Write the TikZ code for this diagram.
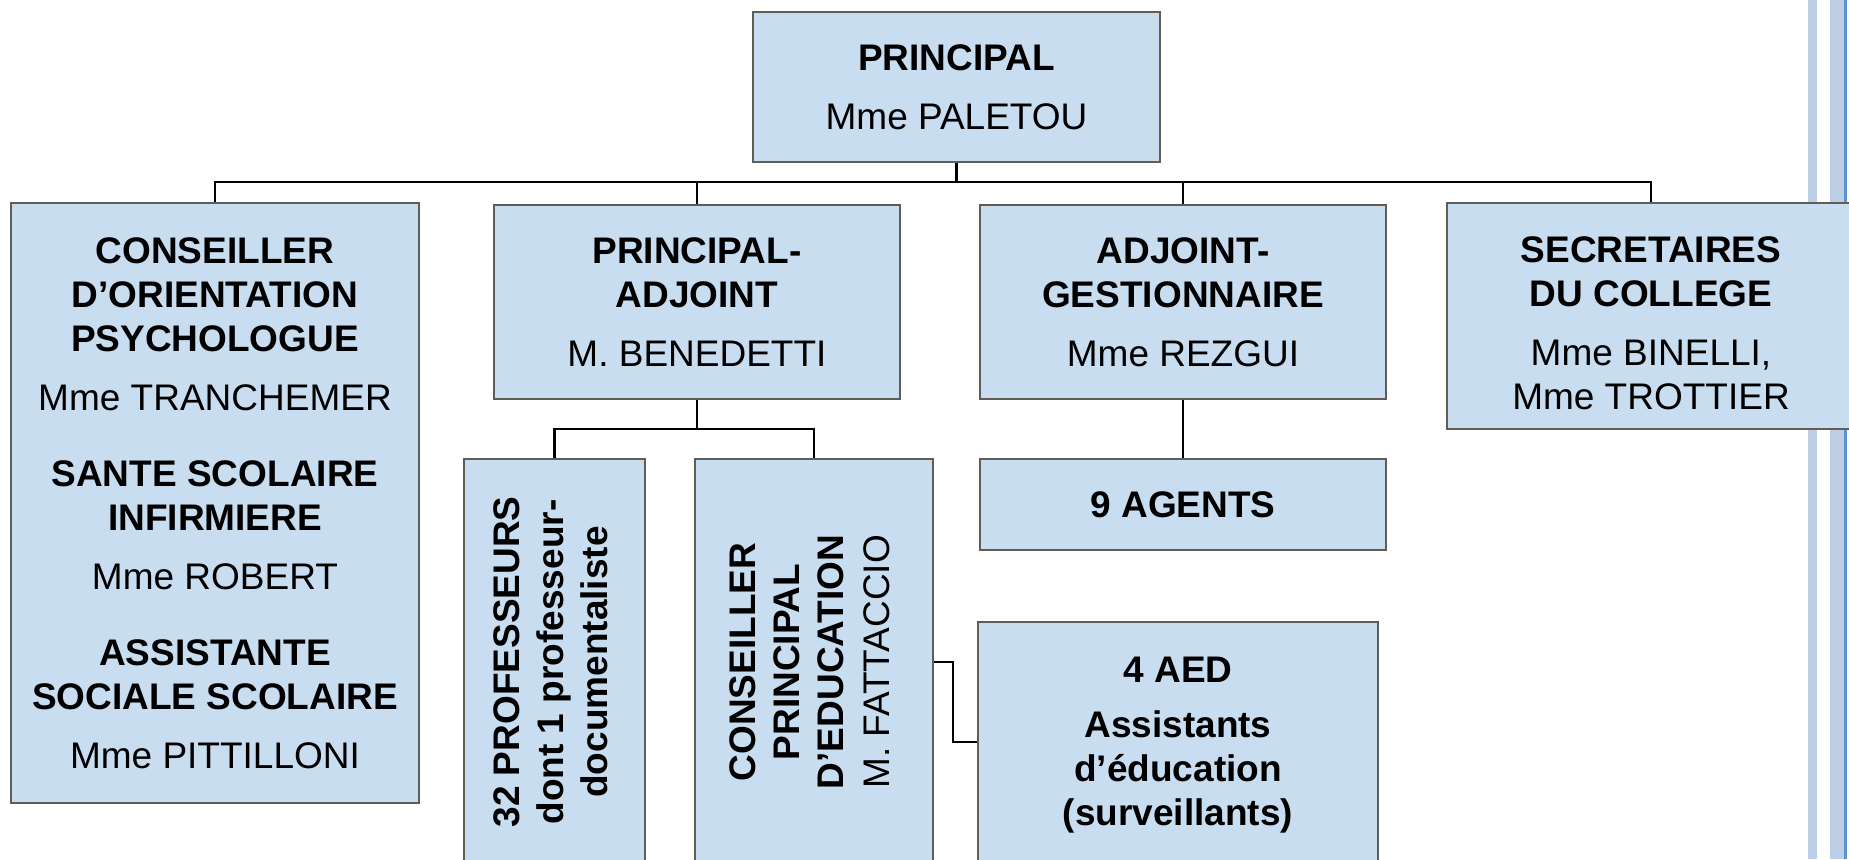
\documentclass[tikz,border=0pt]{standalone}
\usepackage{fontspec}
\setmainfont{Liberation Sans}
\usepackage{graphicx}
\definecolor{boxfill}{RGB}{200,221,240}
\definecolor{boxline}{RGB}{98,92,86}
\definecolor{stripe}{RGB}{189,207,231}
\definecolor{stripedark}{RGB}{91,146,207}
\tikzset{
  orgbox/.style={draw=boxline, line width=2pt, fill=boxfill, rectangle, inner sep=0pt,
    align=center, font=\fontsize{37}{44}\selectfont},
  boxtext/.style={align=center, font=\fontsize{37}{44}\selectfont, inner sep=0pt},
  link/.style={draw=black, line width=2.2pt}
}
\newcommand{\vtext}[1]{\rotatebox{90}{\begin{tabular}{@{}c@{}}#1\end{tabular}}}
\begin{document}
\begin{tikzpicture}[x=1pt,y=-1pt]
\clip (0,0) rectangle (1849,859);
\fill[white] (0,0) rectangle (1849,859);
% right-side decorative stripes
\fill[stripe] (1808,0) rectangle (1817,859);
\fill[stripe] (1830,0) rectangle (1845,859);
\fill[stripedark] (1844,0) rectangle (1847,859);

\node[orgbox, minimum width=407pt, minimum height=150pt] (principal) at (956.5,87)
  {\textbf{PRINCIPAL}\\[15pt] Mme PALETOU};
\node[orgbox, minimum width=408pt, minimum height=600pt] (cop) at (215,503)
  {\textbf{CONSEILLER}\\ \textbf{D’ORIENTATION}\\ \textbf{PSYCHOLOGUE}\\[15pt] Mme TRANCHEMER\\[32pt]
   \textbf{SANTE SCOLAIRE}\\ \textbf{INFIRMIERE}\\[15pt] Mme ROBERT\\[32pt]
   \textbf{ASSISTANTE}\\ \textbf{SOCIALE SCOLAIRE}\\[15pt] Mme PITTILLONI};
\node[orgbox, minimum width=406pt, minimum height=194pt] (pa) at (697,302)
  {\textbf{PRINCIPAL-}\\ \textbf{ADJOINT}\\[15pt] M. BENEDETTI};
\node[orgbox, minimum width=406pt, minimum height=194pt] (ag) at (1183,302)
  {\textbf{ADJOINT-}\\ \textbf{GESTIONNAIRE}\\[15pt] Mme REZGUI};
\node[orgbox, minimum width=408pt, minimum height=226pt,
  label={[boxtext, yshift=-7pt]center:{\textbf{SECRETAIRES}\\ \textbf{DU COLLEGE}\\[15pt] Mme BINELLI,\\ Mme TROTTIER}}]
  (sec) at (1651,316) {};
\node[orgbox, minimum width=181pt, minimum height=406pt] (prof) at (554.5,662)
  {\vtext{\textbf{32 PROFESSEURS}\\ \textbf{dont 1 professeur-}\\ \textbf{documentaliste}}};
\node[orgbox, minimum width=238pt, minimum height=406pt] (cpe) at (814,662)
  {\vtext{\textbf{CONSEILLER}\\ \textbf{PRINCIPAL}\\ \textbf{D’EDUCATION}\\[2pt] M. FATTACCIO}};
\node[orgbox, minimum width=406pt, minimum height=91pt] (agents) at (1183,504.5)
  {\textbf{9 AGENTS}};
\node[orgbox, minimum width=400pt, minimum height=240pt,
  label={[boxtext, yshift=-3pt]center:{\textbf{4 AED}\\[11pt] \textbf{Assistants}\\ \textbf{d’éducation}\\ \textbf{(surveillants)}}}]
  (aed) at (1178,742) {};

\coordinate (bus) at (956.5,182);
\coordinate (sub) at (697,429);
\draw[link] (principal.south) -- (bus);
\draw[link] (cop.north) |- (bus) -| (sec.north);
\draw[link] (pa.north) -- (pa.north |- bus);
\draw[link] (ag.north) -- (ag.north |- bus);
\draw[link] (pa.south) -- (sub);
\draw[link] (prof.north) |- (sub) -| (cpe.north);
\draw[link] (ag.south) -- (agents.north);
\draw[link] (cpe.east) -- ++(19,0) |- (aed.west);
\end{tikzpicture}
\end{document}
